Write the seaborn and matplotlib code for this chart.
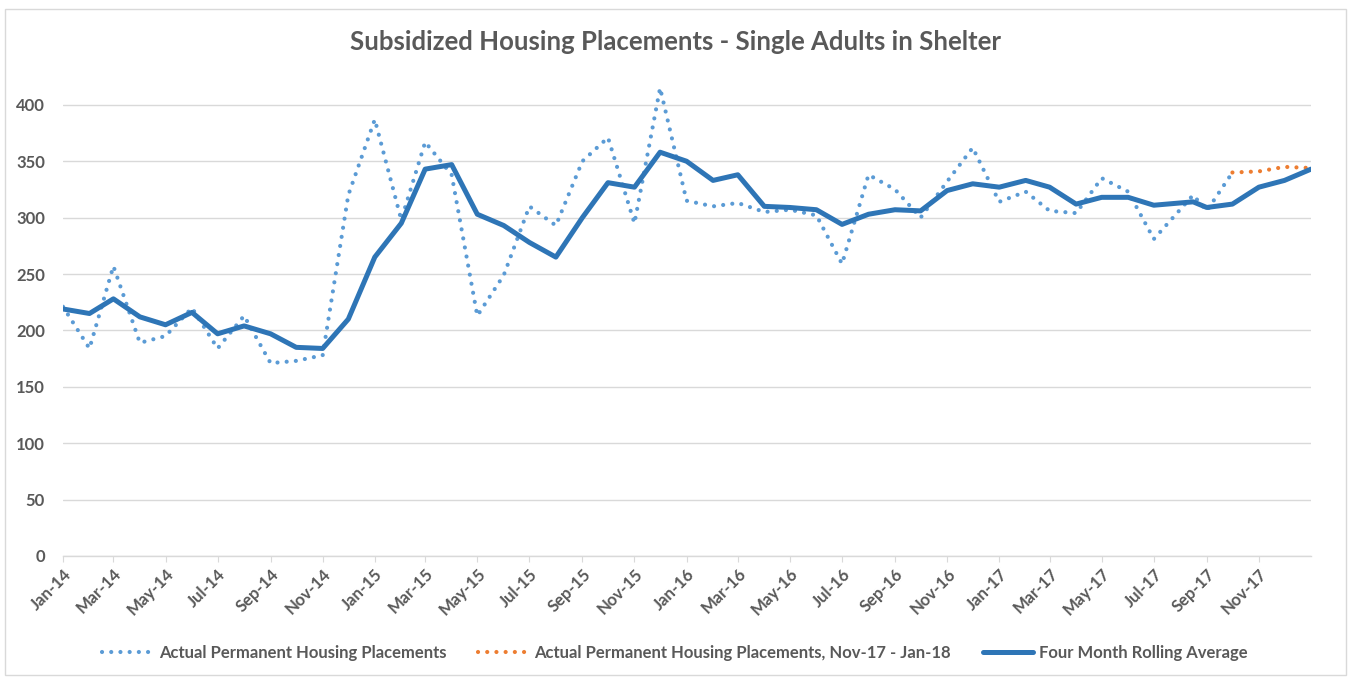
import pandas as pd
import matplotlib
matplotlib.use("Agg")
import matplotlib.pyplot as plt
import matplotlib.dates as mdates
import seaborn as sns

# monthly dates Jan-14 .. Jan-18, the Aug-17 figure sits mid-month in the source
months = list(pd.date_range("2014-01-01", "2018-01-01", freq="MS"))
months[43] = pd.Timestamp("2017-08-16")

# Actual permanent housing placements, Jan-14 .. Oct-17
actual = [221, 184, 257, 189, 195, 220, 184, 213, 171, 173, 178, 320,
          387, 298, 367, 338, 213, 249, 310, 293, 350, 371, 295, 415,
          315, 310, 313, 305, 307, 302, 259, 338, 325, 300, 332, 362,
          314, 323, 306, 304, 335, 323, 281, 320, 306, 340]
# latest months, Oct-17 .. Jan-18 (starts on Oct-17 so the lines join)
recent = [340, 341, 345, 344]
# four month rolling average, Jan-14 .. Jan-18
rolling = [219, 215, 228, 212, 205, 216, 197, 204, 197, 185, 184, 210,
           265, 295, 343, 347, 303, 293, 278, 265, 300, 331, 327, 358,
           350, 333, 338, 310, 309, 307, 294, 303, 307, 306, 324, 330,
           327, 333, 327, 312, 318, 318, 311, 314, 309, 312, 327, 333, 343]

labels = ["Actual Permanent Housing Placements",
          "Actual Permanent Housing Placements, Nov-17 - Jan-18",
          "Four Month Rolling Average"]

GREY = "#595959"
GRID = "#d9d9d9"

sns.set_theme(style="white")
plt.rcParams["font.family"] = ["Lato", "DejaVu Sans"]

fig = plt.figure(figsize=(13.5, 6.77), dpi=100)
ax = fig.add_axes([63 / 1350, 1 - 556 / 677, (1311 - 63) / 1350, (556 - 71) / 677])

dotted = (0, (0.01, 2.2))
sns.lineplot(x=months[:46], y=actual, ax=ax, color="#5b9bd5", lw=3,
             linestyle=dotted, dash_capstyle="round", label=labels[0])
sns.lineplot(x=months[45:], y=recent, ax=ax, color="#ed7d31", lw=3,
             linestyle=dotted, dash_capstyle="round", label=labels[1])
sns.lineplot(x=months, y=rolling, ax=ax, color="#2e75b6", lw=3.6,
             solid_capstyle="round", label=labels[2])

ax.set_xlim(months[0], months[-1])
ax.set_ylim(0, 430)
ax.set_yticks(range(0, 401, 50))
ax.set_xlabel("")
ax.set_ylabel("")

# every second month, no label on the closing Jan-18 edge
ax.set_xticks(list(pd.date_range("2014-01-01", "2017-11-01", freq="2MS")))
ax.xaxis.set_major_formatter(mdates.DateFormatter("%b-%y"))

ax.grid(axis="y", color=GRID, lw=1)
ax.grid(axis="x", visible=False)
for s in ["top", "right", "left"]:
    ax.spines[s].set_visible(False)
ax.spines["bottom"].set_color(GRID)
ax.spines["bottom"].set_linewidth(1)

ax.tick_params(axis="y", length=0, pad=13, labelsize=12, labelcolor=GREY)
ax.tick_params(axis="x", length=4, width=0.8, color=GRID, direction="out",
               pad=3, labelsize=12, labelcolor=GREY, bottom=True)
for t in ax.get_yticklabels():
    t.set_fontweight("bold")
for t in ax.get_xticklabels():
    t.set_fontweight("bold")
    t.set_rotation(45)
    t.set_ha("right")
    t.set_rotation_mode("anchor")

fig.text(0.5, 1 - 42 / 677, "Subsidized Housing Placements - Single Adults in Shelter",
         ha="center", va="center", fontsize=18.5, fontweight="bold", color=GREY)

handles, _ = ax.get_legend_handles_labels()
ax.get_legend().remove()
leg = fig.legend(handles, labels, loc="center", bbox_to_anchor=(0.5, 1 - 653 / 677),
                 ncol=3, frameon=False, handlelength=3.0, columnspacing=1.9,
                 handletextpad=0.4, prop={"size": 12, "weight": "bold"})
for t in leg.get_texts():
    t.set_color(GREY)

fig.add_artist(plt.Rectangle((5 / 1350, 2 / 677), 1341 / 1350, 1 - 11 / 677,
                             fill=False, ec=GRID, lw=1, transform=fig.transFigure))

fig.savefig("out.png", dpi=100)
